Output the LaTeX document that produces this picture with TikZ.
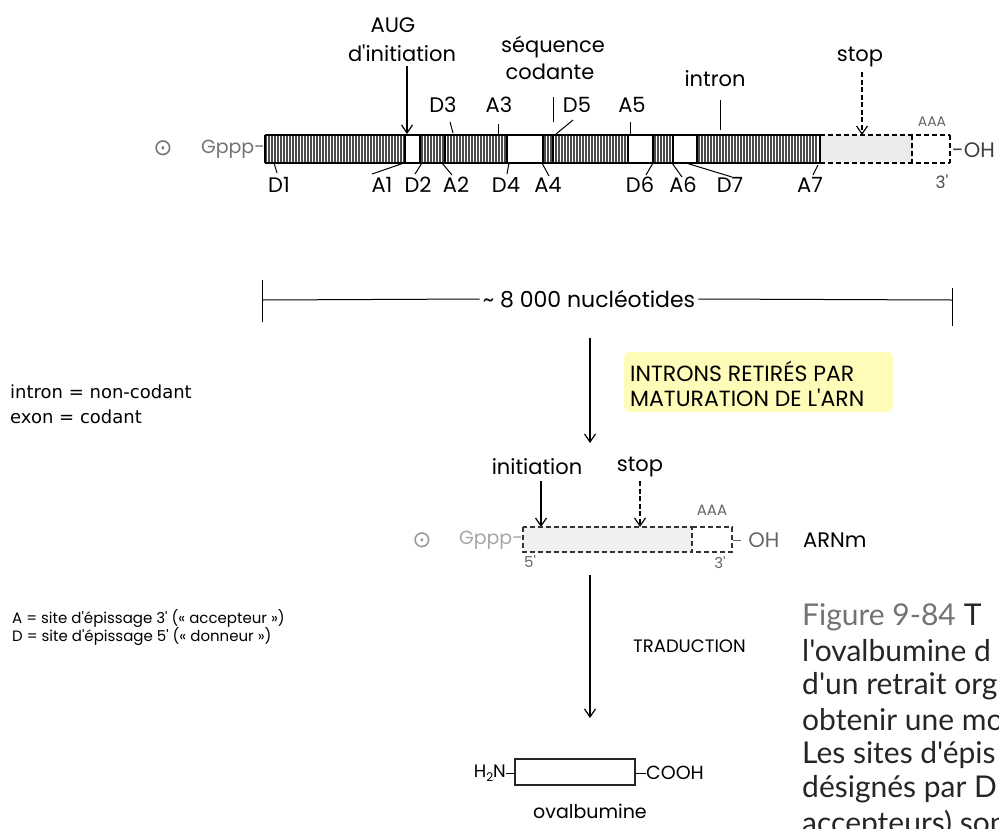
\documentclass[tikz,border=0pt]{standalone}
\usepackage{fontspec}
\setmainfont{Liberation Sans}
\newfontfamily\geo{Poppins}
\newfontfamily\capt{Lato}
\newfontfamily\sym{DejaVu Sans}
\usetikzlibrary{arrows.meta}
\tikzset{
  lbl/.style={font=\geo\fontsize{21}{24}\selectfont, inner sep=0pt},
  tinylbl/.style={font=\geo\fontsize{14}{16}\selectfont, inner sep=0pt, text=black!60},
  nar/.style={font=\sym\fontsize{18}{22}\selectfont, inner sep=0pt, anchor=west},
  legend/.style={font=\geo\fontsize{15}{17}\selectfont, inner sep=0pt, anchor=west},
  caps/.style={font=\geo\fontsize{22}{26}\selectfont, inner sep=0pt, anchor=west},
  captline/.style={font=\capt\fontsize{30}{34}\selectfont, inner sep=0pt, anchor=west, text=black!85},
  capsym/.style={font=\sym\fontsize{23}{23}\selectfont, inner sep=0pt},
  lead/.style={line width=1pt},
  arr/.style={line width=1.2pt, -{Straight Barb[length=8pt,width=11pt,line width=1.2pt]}},
  darr/.style={arr, dash pattern=on 5pt off 2.5pt},
  hatch/.style={line width=1.2pt, black!70},
  edgeln/.style={line width=1.2pt},
  dashedge/.style={line width=1.1pt, dash pattern=on 5pt off 3pt},
}
\begin{document}
\begin{tikzpicture}[x=1pt,y=-1pt]
\useasboundingbox (0,0) rectangle (999,828);
\clip (0,0) rectangle (999,828);
\fill[white] (0,0) rectangle (999,828);

% ---------- top gene bar ----------
\foreach \a/\b in {266/404, 422/443, 448/505, 545/551, 556/626, 655/671, 699/818}{
  \pgfmathtruncatemacro{\c}{\a+3}
  \foreach \x in {\a,\c,...,\b}{\draw[hatch] (\x,136) -- (\x,162);}
}
\fill[black!8] (820,135) rectangle (912,163);
\draw[edgeln] (265,135) -- (820,135);
\draw[edgeln] (265,163) -- (820,163);
\draw[edgeln] (265,135) -- (265,163);
\foreach \x in {405,420,445,507,543,553,628,653,673,697,820}{\draw[edgeln] (\x,135) -- (\x,163);}
\draw[dashedge] (820,135) -- (950,135);
\draw[dashedge] (820,163) -- (950,163);
\draw[dashedge] (912,135) -- (912,163);
\draw[dashedge] (950,135) -- (950,163);

\node[capsym, text=black!55] (cap1) at (163,148) {⊙};
\node[font=\geo\fontsize{19}{20}\selectfont, text=black!55, inner sep=0pt, anchor=east] (gppp1) at (265,149) {Gppp-};
\node[lbl, anchor=west, text=black!75] (oh1) at (952,150) {-OH};
\node[tinylbl] (aaa1) at (932,122) {AAA};
\node[font=\geo\fontsize{17}{18}\selectfont, inner sep=0pt, text=black!70] (p3a) at (942,182) {3'};

% top labels
\node[lbl] (aug) at (393,25) {AUG};
\node[lbl] (dinit) at (402,53) {d'initiation};
\node[lbl] (seq) at (553,47) {séquence};
\node[lbl] (cod) at (550,72) {codante};
\node[lbl] (intr) at (715,79) {intron};
\node[lbl] (stopA) at (860,57) {stop};
\node[lbl] (D3) at (443,105) {D3};
\node[lbl] (A3) at (499,105) {A3};
\node[lbl] (D5) at (577,105) {D5};
\node[lbl] (A5) at (632,105) {A5};

\coordinate (augT) at (407,66);  \coordinate (augB) at (407,134);
\draw[arr] (augT) -- (augB);
\coordinate (stT) at (862,72);   \coordinate (stB) at (862,135);
\draw[darr] (stT) -- (stB);
\coordinate (sqT) at (553,97);   \coordinate (sqB) at (553,122);
\draw[lead] (sqT) -- (sqB);
\coordinate (inT) at (720,100);  \coordinate (inB) at (720,130);
\draw[lead] (inT) -- (inB);
\draw[lead] (450,122) -- (453,133);
\draw[lead] (498,124) -- (498,134);
\draw[lead] (573,120) -- (556,134);
\draw[lead] (630,122) -- (630,136);

% bottom labels
\foreach \n/\x in {D1/279, A1/382, D2/418, A2/456, D4/506, A4/548, D6/640, A6/683, D7/730, A7/810}{
  \node[lbl] (\n) at (\x,185) {\n};
}
\draw[lead] (274,163) -- (277,173);
\draw[lead] (404,163) -- (372,174);
\draw[lead] (422,163) -- (415,174);
\draw[lead] (442,163) -- (452,175);
\draw[lead] (509,163) -- (507,174);
\draw[lead] (542,163) -- (549,176);
\draw[lead] (653,163) -- (646,175);
\draw[lead] (672,163) -- (682,177);
\draw[lead] (686,163) -- (732,177);
\draw[lead] (818,165) -- (813,175);

% ---------- scale bar ----------
\node[font=\geo\fontsize{22}{24}\selectfont, inner sep=3pt] (sbt) at (589,299) {\textasciitilde{} 8 000 nucléotides};
\coordinate (sbL) at (262,300); \coordinate (sbR) at (952,300);
\draw[lead] (sbL) -- (sbt.west);
\draw[lead] (sbt.east) -- (sbR);
\draw[lead] (262,280) -- (262,322);
\draw[lead] (952,288) -- (952,326);

% ---------- maturation ----------
\coordinate (a1T) at (590,338); \coordinate (a1B) at (590,443);
\draw[arr] (a1T) -- (a1B);
\fill[yellow!28, rounded corners=6pt] (624,352) rectangle (893,412);
\node[caps] (intra) at (630,371) {INTRONS RETIRÉS PAR};
\node[caps] (matu) at (630,398) {MATURATION DE L'ARN};
\node[nar] (leg1) at (10,392) {intron = non-codant};
\node[nar] (leg2) at (10,417) {exon = codant};

% ---------- mRNA ----------
\node[lbl] (initB) at (537,467) {initiation};
\node[lbl] (stopB) at (640,467) {stop};
\coordinate (iT) at (541,481); \coordinate (iB) at (541,527);
\draw[arr] (iT) -- (iB);
\coordinate (sT) at (640,481); \coordinate (sB) at (640,527);
\draw[darr] (sT) -- (sB);
\node[tinylbl, font=\geo\fontsize{15}{16}\selectfont] (aaa2) at (712,510) {AAA};
\fill[black!6] (523,527) rectangle (692,552);
\draw[dashedge, black!80] (523,527) rectangle (692,552);
\draw[dashedge, black!80] (692,527) -- (732,527) -- (732,552) -- (692,552);
\node[capsym, text=black!40] (cap2) at (422,540) {⊙};
\node[font=\geo\fontsize{19}{20}\selectfont, text=black!35, inner sep=0pt, anchor=east] (gppp2) at (523,540) {Gppp-};
\draw[lead, black!60] (733,540) -- (741,540);
\node[lbl, text=black!60] (oh2) at (764,540) {OH};
\node[lbl, anchor=west] (arnm) at (803,540) {ARNm};
\node[tinylbl, font=\geo\fontsize{15}{16}\selectfont] (p5) at (530,562) {5'};
\node[tinylbl, font=\geo\fontsize{15}{16}\selectfont] (p3b) at (720,563) {3'};

% ---------- translation ----------
\coordinate (a2T) at (590,575); \coordinate (a2B) at (590,718);
\draw[arr] (a2T) -- (a2B);
\node[font=\geo\fontsize{18}{22}\selectfont, inner sep=0pt, anchor=west] (trad) at (633,646) {TRADUCTION};
\node[legend] (legA) at (12,619) {A = site d'épissage 3' («~accepteur~»)};
\node[legend] (legD) at (12,637) {D = site d'épissage 5' («~donneur~»)};

% protein
\draw[edgeln, black!85] (515,759) rectangle (635,785);
\node[font=\geo\fontsize{18}{20}\selectfont, inner sep=0pt, anchor=east] (h2n) at (506,773) {H\raisebox{-4pt}{\fontsize{12}{12}\selectfont 2}N};
\draw[lead] (h2n.east) -- (515,773);
\node[font=\geo\fontsize{19}{20}\selectfont, inner sep=0pt, anchor=west] (cooh) at (646,773) {COOH};
\draw[lead] (635,773) -- (cooh.west);
\node[font=\geo\fontsize{19}{20}\selectfont, inner sep=0pt] (ova) at (590,811) {ovalbumine};

% caption
\node[captline, text=black!55] (c0) at (802,617) {Figure 9-84\hspace{8pt}\textcolor{black!85}{T}};
\node[captline] (c1) at (802,651) {l'ovalbumine d};
\node[captline] (c2) at (802,686) {d'un retrait org};
\node[captline] (c3) at (802,720) {obtenir une mo};
\node[captline] (c4) at (802,755) {Les sites d'épis};
\node[captline] (c5) at (802,789) {désignés par D};
\node[captline] (c6) at (802,824) {accepteurs) son};
\end{tikzpicture}
\end{document}
